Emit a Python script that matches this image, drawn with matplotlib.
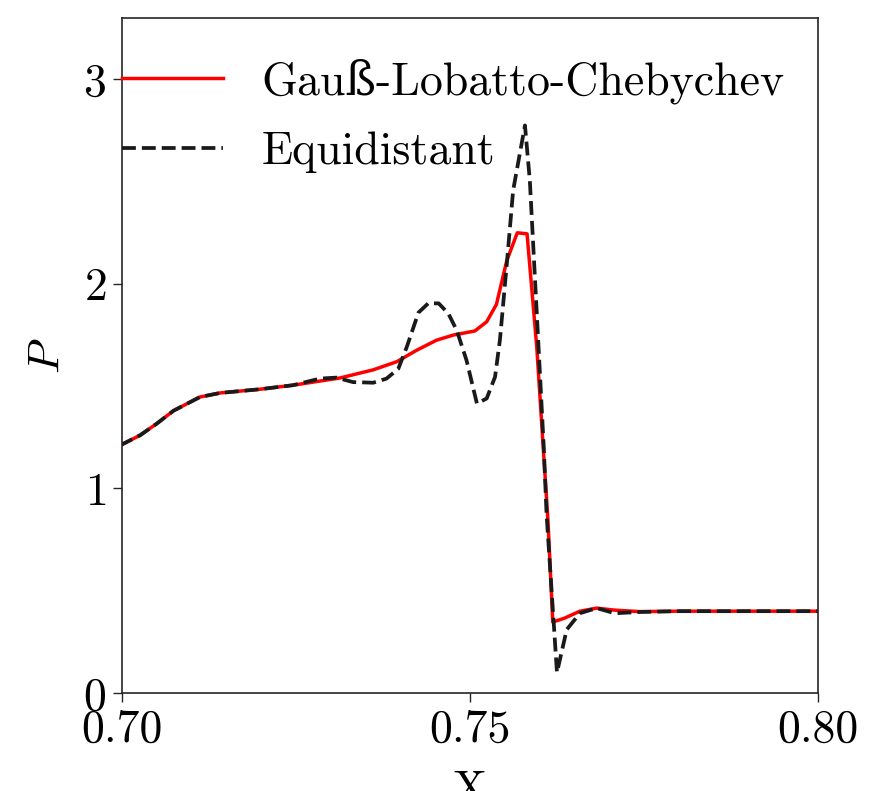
#!/usr/bin/env python3
"""Pressure profile near the shock: Gauss-Lobatto-Chebychev vs equidistant nodes."""

import matplotlib
matplotlib.use("Agg")
import matplotlib.pyplot as plt
from matplotlib.ticker import FormatStrFormatter


# Gauss-Lobatto-Chebychev nodes
x_gl = [0.6997, 0.7026, 0.7050, 0.7074, 0.7112, 0.7141, 0.7198, 0.7246,
        0.7313, 0.7361, 0.7395, 0.7423, 0.7452, 0.7476, 0.7507, 0.7524,
        0.7538, 0.7553, 0.7568, 0.7582, 0.7596, 0.7612, 0.7619, 0.7636,
        0.7658, 0.7682, 0.7708, 0.7744, 0.7800, 0.7900, 0.8000]
p_gl = [1.21, 1.26, 1.317, 1.38, 1.447, 1.467, 1.485, 1.505,
        1.54, 1.58, 1.62, 1.675, 1.725, 1.75, 1.77, 1.815,
        1.90, 2.115, 2.25, 2.245, 1.69, 0.845, 0.347, 0.366,
        0.40, 0.415, 0.405, 0.398, 0.40, 0.40, 0.40]

# Equidistant nodes
x_eq = [0.6997, 0.7026, 0.7050, 0.7074, 0.7112, 0.7141, 0.7198, 0.7246,
        0.7284, 0.7308, 0.7332, 0.7361, 0.7380, 0.7397, 0.7409, 0.7426,
        0.7440, 0.7455, 0.7469, 0.7481, 0.7495, 0.7510, 0.7524, 0.7536,
        0.7543, 0.7553, 0.7562, 0.7579, 0.7586, 0.7596, 0.7606, 0.7610,
        0.7625, 0.7639, 0.7658, 0.7682, 0.7708, 0.7744, 0.7800, 0.7900,
        0.8000]
p_eq = [1.21, 1.26, 1.317, 1.38, 1.447, 1.467, 1.485, 1.505,
        1.537, 1.542, 1.52, 1.517, 1.537, 1.585, 1.69, 1.86,
        1.905, 1.905, 1.855, 1.773, 1.627, 1.415, 1.44, 1.545,
        1.725, 2.10, 2.457, 2.775, 2.506, 1.855, 1.203, 0.877,
        0.10, 0.31, 0.39, 0.415, 0.39, 0.396, 0.40, 0.40,
        0.40]

x_ticks = [0.70, 0.75, 0.80]
y_ticks = [0, 1, 2, 3]

plt.rcParams["font.family"] = ["cmr10", "DejaVu Serif"]
plt.rcParams["mathtext.fontset"] = "cm"
plt.rcParams["axes.formatter.use_mathtext"] = True
plt.rcParams["axes.unicode_minus"] = False

FS = 33

fig = plt.figure(figsize=(8.7, 7.91), dpi=100)
ax = fig.add_axes([0.1402, 0.1239, 0.80, 0.8533])

ax.plot(x_gl, p_gl, color="red", linewidth=2.5, label="Gauß-Lobatto-Chebychev")
ax.plot(x_eq, p_eq, color="#1a1a1a", linewidth=2.7, linestyle="--", label="Equidistant")

ax.set_xlim(0.70, 0.80)
ax.set_ylim(0, 3.3)
ax.set_xticks(x_ticks)
ax.set_yticks(y_ticks)
ax.xaxis.set_major_formatter(FormatStrFormatter("%.2f"))
ax.tick_params(labelsize=FS, length=6.5, width=1.0, pad=5, color="0.15")
for sp in ax.spines.values():
    sp.set_color("0.15")
    sp.set_linewidth(1.2)

ax.set_xlabel("X", fontsize=FS, labelpad=14)
ax.set_ylabel("$P$", fontsize=FS, labelpad=10)

ax.legend(loc="upper left", bbox_to_anchor=(0.0, 0.94), frameon=False,
          fontsize=FS, handlelength=2.2, handletextpad=0.85,
          labelspacing=0.6, borderpad=0, borderaxespad=0)

fig.savefig("out.png", dpi=100)
